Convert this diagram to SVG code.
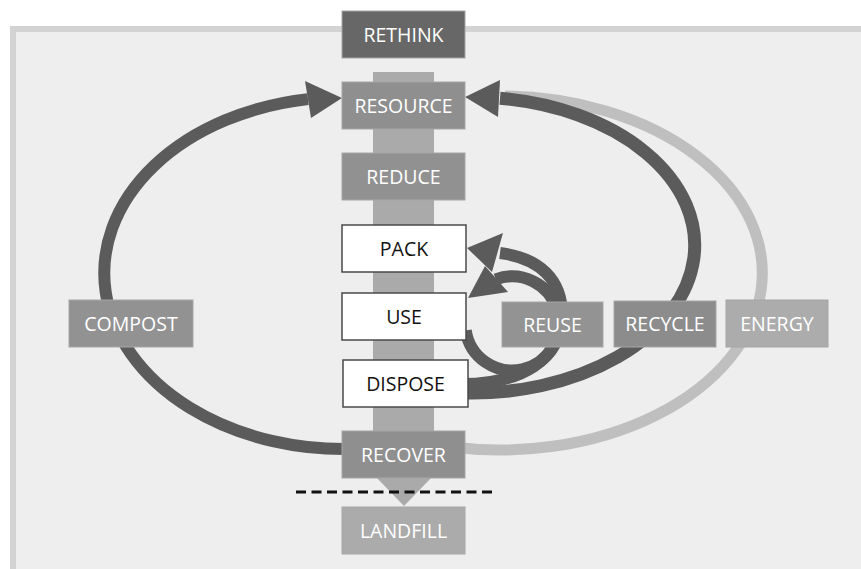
<svg xmlns="http://www.w3.org/2000/svg" width="861" height="569" viewBox="0 0 861 569">
<style>
.t{font-family:"Open Sans","Liberation Sans",sans-serif;font-size:19.5px;text-anchor:middle;fill:#ffffff}
.tk{fill:#111111}
.wb{fill:#ffffff;stroke:#4a4a4a;stroke-width:1.5}
.gb{stroke:#a6a6a6;stroke-width:1}
.dk{fill:none;stroke:#5b5b5b}
.lt{fill:none;stroke:#bfbfbf}
.ah{fill:#5b5b5b;stroke:none}
</style>
<rect x="0" y="0" width="861" height="569" fill="#ffffff"/>
<rect id="panel" x="13" y="29" width="900" height="600" fill="#eeeeee" stroke="#d3d3d3" stroke-width="6"/>
<g id="spine">
<rect x="373" y="72" width="61" height="406" fill="#aaaaaa"/>
<polygon points="376,477 432,477 404,506" fill="#aaaaaa"/>
</g>
<g id="connectors">
<path class="lt" stroke-width="11" d="M 450 446.8 A 262.5 177 0 1 0 505 96.05"/>
<path class="dk" stroke-width="12" d="M 360 448.7 A 240 176 0 0 1 308 99.1"/>
<polygon class="ah" points="342,98 305,81 311,118"/>
<path class="dk" stroke-width="13" d="M 460 392.9 A 223 148 0 0 0 500 98.3"/>
<polygon class="ah" points="465,97 500,80 498,117"/>
<path class="dk" stroke-width="12" d="M 462 384 C 520 384, 562 360, 562 315 C 562 280, 540 258, 500 253"/>
<polygon class="ah" points="467,248 503,233 492,272"/>
<path class="dk" stroke-width="12" d="M 465.7 330.3 A 47 47 0 1 0 495.8 279.3"/>
<polygon class="ah" points="468,298 485,266 508,292"/>
<line x1="296" y1="492" x2="496" y2="492" stroke="#111111" stroke-width="3" stroke-dasharray="10 5.5"/>
</g>
<g id="rethink"><rect class="gb" x="342" y="11" width="123" height="47" fill="#676767"/><text class="t" x="403.5" y="41.5">RETHINK</text></g>
<g id="resource"><rect class="gb" x="342" y="82" width="123" height="47" fill="#8f8f8f"/><text class="t" x="403.5" y="112.5">RESOURCE</text></g>
<g id="reduce"><rect class="gb" x="342" y="153" width="123" height="47" fill="#919191"/><text class="t" x="403.5" y="183.5">REDUCE</text></g>
<g id="pack"><rect class="wb" x="342" y="225" width="124" height="47"/><text class="t tk" x="404" y="255.5">PACK</text></g>
<g id="use"><rect class="wb" x="342" y="293" width="124" height="47"/><text class="t tk" x="404" y="323.5">USE</text></g>
<g id="dispose"><rect class="wb" x="343" y="360" width="125" height="47"/><text class="t tk" x="405.5" y="390.5">DISPOSE</text></g>
<g id="recover"><rect class="gb" x="342" y="431" width="123" height="47" fill="#8f8f8f"/><text class="t" x="403.5" y="461.5">RECOVER</text></g>
<g id="landfill"><rect class="gb" x="342" y="507" width="123" height="47" fill="#ababab"/><text class="t" x="403.5" y="537.5">LANDFILL</text></g>
<g id="compost"><rect class="gb" x="69" y="300" width="124" height="47" fill="#929292"/><text class="t" x="131" y="330.5">COMPOST</text></g>
<g id="reuse"><rect class="gb" x="502" y="302" width="101" height="45" fill="#939393"/><text class="t" x="552.5" y="331.5">REUSE</text></g>
<g id="recycle"><rect class="gb" x="614" y="301" width="102" height="46" fill="#8c8c8c"/><text class="t" x="665" y="331">RECYCLE</text></g>
<g id="energy"><rect class="gb" x="726" y="300" width="102" height="47" fill="#acacac"/><text class="t" x="777" y="330.5">ENERGY</text></g>
</svg>
